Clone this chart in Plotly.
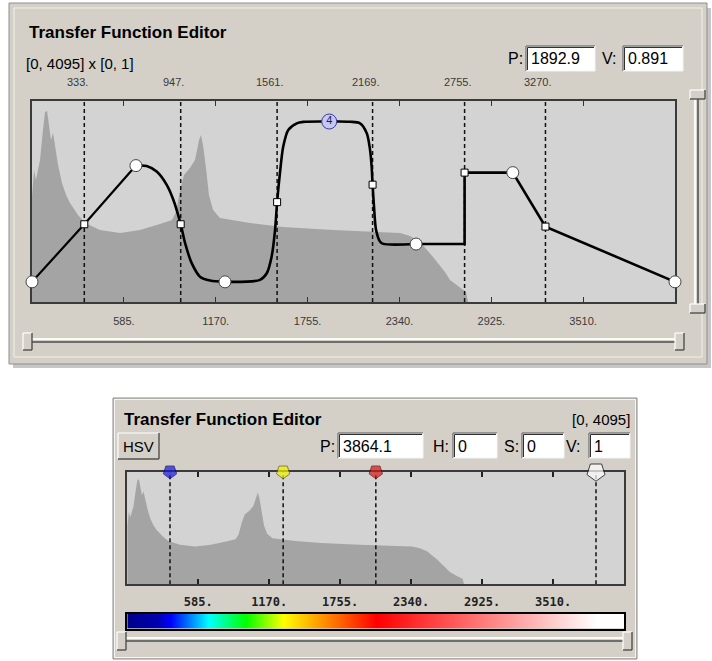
import plotly.graph_objects as go

W, H = 712, 661


def px(x):
    return x / W


def py(y):
    return 1 - y / H


# ---------------- data ----------------
# histogram (value position, relative height)
hist_pos = [0, 13, 25, 51, 70, 83, 96, 108, 121, 134, 146, 166, 191, 217, 242, 293, 338, 433, 561, 688,
            815, 892, 917, 943, 968, 1006, 1038, 1064, 1076, 1089, 1108, 1127, 1153, 1197, 1388, 1598, 1917,
            2344, 2407, 2471, 2554, 2630, 2662, 2726, 2764, 2777]
hist_h = [0.522, 0.657, 0.607, 0.706, 0.856, 0.945, 0.95, 0.881, 0.806, 0.841, 0.781, 0.682, 0.592, 0.532,
          0.493, 0.433, 0.393, 0.358, 0.343, 0.358, 0.388, 0.408, 0.448, 0.557, 0.632, 0.667, 0.706, 0.806,
          0.831, 0.781, 0.667, 0.532, 0.458, 0.418, 0.393, 0.373, 0.358, 0.343, 0.328, 0.299, 0.224, 0.149,
          0.109, 0.07, 0.05, 0.0]

# transfer function curve pieces (P, V)
lin1_p = [0, 333, 662]
lin1_v = [0, 0.32, 0.646]
smooth1_p = [662, 730, 794, 858, 900, 947, 975, 1017, 1070, 1134, 1229]
smooth1_v = [0.646, 0.644, 0.613, 0.539, 0.456, 0.32, 0.215, 0.104, 0.029, 0.007, 0.0]
smooth2_p = [1229, 1452, 1495, 1526, 1548, 1561, 1579, 1600, 1632, 1686, 1728, 1893]
smooth2_v = [0.0, 0.011, 0.048, 0.14, 0.289, 0.443, 0.604, 0.752, 0.844, 0.881, 0.889, 0.891]
smooth3_p = [1893, 2025, 2089, 2132, 2153, 2163, 2169, 2178, 2191, 2216, 2237, 2446]
smooth3_v = [0.891, 0.89, 0.881, 0.826, 0.733, 0.641, 0.54, 0.42, 0.289, 0.224, 0.211, 0.21]
lin2_p = [2446, 2755, 2755, 3062, 3270, 4095]
lin2_v = [0.21, 0.21, 0.607, 0.607, 0.307, 0.0]

# control points
node_p = [0, 662, 1229, 2446, 3062, 4095]
node_v = [0.0, 0.646, 0.0, 0.21, 0.607, 0.0]
sel_p = [1892.9]
sel_v = [0.891]
sel_label = ["4"]
mid_p = [333, 947, 1561, 2169, 2755, 3270]
mid_v = [0.32, 0.32, 0.443, 0.54, 0.607, 0.307]
mid_label = ["333.", "947.", "1561.", "2169.", "2755.", "3270."]

tick_vals = [585, 1170, 1755, 2340, 2925, 3510]
tick_text = ["585.", "1170.", "1755.", "2340.", "2925.", "3510."]

# color editor markers
cmark_p = [352, 1285, 2049, 3864.1]
cmark_fill = ["#1a1ad8", "#f4f400", "#d81818", "#ffffff"]
cmark_line = ["#000070", "#606000", "#600000", "#000000"]
cmark_size = [14, 14, 14, 19]

# color gradient stops
grad_p = [0, 250, 352, 671, 975, 1285, 1667, 2049, 3864.1, 4095]
grad_c = ["#00008c", "#0000b0", "#0000ff", "#00ffff", "#00ff00", "#ffff00", "#ff8000", "#ff0000",
          "#ffffff", "#ffffff"]

PMAX = 4095

# ---------------- figure ----------------
fig = go.Figure()

FONT = "Liberation Sans, Arial, sans-serif"
PANEL = "#d4d0c8"
PLOTBG = "#d3d3d3"
HISTC = "#a4a4a4"
FRAME = "#3a3a3a"

# ---- top: histogram + dashed lines (x,y)
fig.add_trace(go.Scatter(x=hist_pos, y=hist_h, mode="lines", fill="tozeroy", fillcolor=HISTC,
                         line=dict(width=0, color=HISTC), xaxis="x", yaxis="y", hoverinfo="skip"))
dx, dy = [], []
for p in mid_p:
    dx += [p, p, None]
    dy += [0, 1, None]
fig.add_trace(go.Scatter(x=dx, y=dy, mode="lines", line=dict(color="#111", width=1.5, dash="4px,3px"),
                         xaxis="x", yaxis="y", hoverinfo="skip"))

# ---- top: curve (x2,y2)
CURVE = dict(color="#000", width=2.6)
fig.add_trace(go.Scatter(x=lin1_p, y=lin1_v, mode="lines", line=dict(color="#000", width=2.2),
                         xaxis="x2", yaxis="y2"))
for sp, sv in [(smooth1_p, smooth1_v), (smooth2_p, smooth2_v), (smooth3_p, smooth3_v)]:
    fig.add_trace(go.Scatter(x=sp, y=sv, mode="lines", line=dict(CURVE, shape="spline", smoothing=0.8),
                             xaxis="x2", yaxis="y2"))
fig.add_trace(go.Scatter(x=lin2_p, y=lin2_v, mode="lines", line=CURVE, xaxis="x2", yaxis="y2"))
fig.add_trace(go.Scatter(x=mid_p, y=mid_v, mode="markers", cliponaxis=False,
                         marker=dict(symbol="square", size=7, color="white", line=dict(color="#000", width=1)),
                         xaxis="x2", yaxis="y2"))
fig.add_trace(go.Scatter(x=node_p, y=node_v, mode="markers", cliponaxis=False,
                         marker=dict(symbol="circle", size=12, color="white", line=dict(color="#444", width=1)),
                         xaxis="x2", yaxis="y2"))
fig.add_trace(go.Scatter(x=sel_p, y=sel_v, mode="markers+text", cliponaxis=False, text=sel_label,
                         textposition="middle center", textfont=dict(family=FONT, size=11, color="#202060"),
                         marker=dict(symbol="circle", size=15, color="#c4c8f4", line=dict(color="#3c3c9c", width=1)),
                         xaxis="x2", yaxis="y2"))

# ---- bottom: histogram + dashed lines (x3,y3)
fig.add_trace(go.Scatter(x=hist_pos, y=hist_h, mode="lines", fill="tozeroy", fillcolor=HISTC,
                         line=dict(width=0, color=HISTC), xaxis="x3", yaxis="y3", hoverinfo="skip"))
bx, by = [], []
for p in cmark_p:
    bx += [p, p, None]
    by += [0, 1.02, None]
fig.add_trace(go.Scatter(x=bx, y=by, mode="lines", line=dict(color="#111", width=1.5, dash="4px,3px"),
                         xaxis="x3", yaxis="y3", hoverinfo="skip"))

# ---- bottom: colour gradient (x4,y4)
cscale = [[p / PMAX, c] for p, c in zip(grad_p, grad_c)]
fig.add_trace(go.Heatmap(x=grad_p, y=[0, 1], z=[grad_p, grad_p], zmin=0, zmax=PMAX, colorscale=cscale,
                         zsmooth="best", showscale=False, xaxis="x4", yaxis="y4", hoverinfo="skip"))

# ---- bottom: colour markers (x5,y5)
fig.add_trace(go.Scatter(x=cmark_p, y=[1.02] * len(cmark_p), mode="markers", cliponaxis=False,
                         marker=dict(symbol="pentagon", angle=180, size=cmark_size, color=cmark_fill,
                                     line=dict(color=cmark_line, width=1)),
                         xaxis="x5", yaxis="y5"))

# ---------------- axes ----------------
top_xd = [px(32), px(675)]
top_yd = [py(302), py(101)]
bot_xd = [px(127.3), px(624)]
bot_yd = [py(584.3), py(471.7)]
bar_yd = [py(628.5), py(613.5)]

hidden = dict(visible=False, showgrid=False, zeroline=False, fixedrange=True)

fig.update_layout(
    width=W, height=H, margin=dict(l=0, r=0, t=0, b=0),
    paper_bgcolor="white", plot_bgcolor="rgba(0,0,0,0)", showlegend=False,
    xaxis=dict(domain=top_xd, range=[0, PMAX], tickvals=tick_vals, ticktext=tick_text, ticks="inside",
               ticklen=5, tickwidth=1, tickcolor="#333", showline=True, linecolor=FRAME, linewidth=2,
               mirror="ticks", showgrid=False, zeroline=False, anchor="y", fixedrange=True,
               tickfont=dict(family=FONT, size=11, color="#3a3a3a"), ticklabelstandoff=8),
    yaxis=dict(domain=top_yd, range=[0, 1], showline=True, linecolor=FRAME, linewidth=2, mirror=True,
               showgrid=False, zeroline=False, showticklabels=False, ticks="", anchor="x", fixedrange=True),
    xaxis2=dict(hidden, domain=top_xd, range=[0, PMAX], anchor="y2"),
    yaxis2=dict(hidden, domain=top_yd, range=[-0.112, 1.005], anchor="x2"),
    xaxis3=dict(domain=bot_xd, range=[0, PMAX], tickvals=tick_vals, ticktext=tick_text, ticks="inside",
                ticklen=5, tickwidth=1.5, tickcolor="#222", showline=True, linecolor=FRAME, linewidth=2,
                mirror="ticks", showgrid=False, zeroline=False, anchor="y3", fixedrange=True,
                tickfont=dict(family="DejaVu Sans Mono", size=12, color="#222", weight="bold"),
                ticklabelstandoff=5),
    yaxis3=dict(domain=bot_yd, range=[0, 1.02], showline=True, linecolor=FRAME, linewidth=2, mirror=True,
                showgrid=False, zeroline=False, showticklabels=False, ticks="", anchor="x3", fixedrange=True),
    xaxis4=dict(domain=bot_xd, range=[0, PMAX], showline=True, linecolor="#000", linewidth=1.5, mirror=True,
                showgrid=False, zeroline=False, showticklabels=False, ticks="", anchor="y4", fixedrange=True),
    yaxis4=dict(domain=bar_yd, range=[0, 1], showline=True, linecolor="#000", linewidth=1.5, mirror=True,
                showgrid=False, zeroline=False, showticklabels=False, ticks="", anchor="x4", fixedrange=True),
    xaxis5=dict(hidden, domain=bot_xd, range=[0, PMAX], anchor="y5"),
    yaxis5=dict(hidden, domain=bot_yd, range=[0, 1.02], anchor="x5"),
)

# ---------------- decorations ----------------
shapes = []


def rect(x0, y0, x1, y1, fill=None, line=None, lw=1, layer="below"):
    shapes.append(dict(type="rect", xref="paper", yref="paper", x0=px(x0), x1=px(x1), y0=py(y1), y1=py(y0),
                       fillcolor=fill if fill else "rgba(0,0,0,0)",
                       line=dict(color=line if line else "rgba(0,0,0,0)", width=lw if line else 0),
                       layer=layer))


def seg(x0, y0, x1, y1, color, lw=1, layer="below"):
    shapes.append(dict(type="line", xref="paper", yref="paper", x0=px(x0), x1=px(x1), y0=py(y0), y1=py(y1),
                       line=dict(color=color, width=lw), layer=layer))


def sunken(x0, y0, x1, y1):
    rect(x0, y0, x1, y1, fill="white")
    seg(x0, y0, x1, y0, "#808080", 1.5)
    seg(x0, y0, x0, y1, "#808080", 1.5)
    seg(x0 + 1.5, y0 + 1.5, x1 - 1, y0 + 1.5, "#303030", 1)
    seg(x0 + 1.5, y0 + 1.5, x0 + 1.5, y1 - 1, "#303030", 1)
    seg(x0, y1, x1, y1, "#f4f4f4", 1)
    seg(x1, y0, x1, y1, "#f4f4f4", 1)


def raised(x0, y0, x1, y1):
    rect(x0, y0, x1, y1, fill=PANEL)
    seg(x0, y0, x1, y0, "#ffffff", 1.2)
    seg(x0, y0, x0, y1, "#ffffff", 1.2)
    seg(x0, y1, x1, y1, "#505050", 1.4)
    seg(x1, y0, x1, y1, "#505050", 1.4)


# top panel (shadow + body)
rect(13, 8, 711, 368, fill="#c6c6c6")
rect(9, 3, 707, 364, fill=PANEL, line="#8e8e8e", lw=1)
rect(14, 8, 702, 357, line="#f2f0ec", lw=1)
# top plot background
shapes.append(dict(type="rect", xref="x domain", yref="y domain", x0=0, x1=1, y0=0, y1=1,
                   fillcolor=PLOTBG, line=dict(width=0), layer="below"))

# text boxes (top)
sunken(526, 46, 595, 71)
sunken(623, 46, 683, 71)

# horizontal slider (top)
seg(30, 339, 682, 339, "#fbfbf6", 2.2)
seg(30, 342, 682, 342, "#6e6e6e", 2)
raised(23, 333, 32, 350)
raised(675, 333, 684, 350)
# vertical slider
seg(695, 96, 695, 310, "#fbfbf6", 2.2)
seg(698, 96, 698, 310, "#6e6e6e", 2)
raised(690, 90, 705, 99)
raised(690, 304, 705, 313)

# bottom panel
rect(113, 398, 637, 659, fill=PANEL, line="#8a8a8a", lw=1)
rect(114.5, 399.5, 635.5, 657.5, line="#f6f4f0", lw=1)
shapes.append(dict(type="rect", xref="x3 domain", yref="y3 domain", x0=0, x1=1, y0=0, y1=1,
                   fillcolor=PLOTBG, line=dict(width=0), layer="below"))
raised(118, 433, 159, 459)
sunken(338, 433, 423, 458)
sunken(453, 433, 497, 458)
sunken(522, 433, 564, 458)
sunken(589, 433, 630, 458)
# bottom slider
seg(122, 638, 628, 638, "#fbfbf6", 2.2)
seg(122, 641, 628, 641, "#6e6e6e", 2)
raised(117, 632, 126, 650)
raised(623, 632, 632, 650)

fig.update_layout(shapes=shapes)

# ---------------- texts ----------------
ann = []


def text(x, y, s, size=15, anchor="left", color="#000", family=FONT):
    ann.append(dict(x=px(x), y=py(y), xref="paper", yref="paper", text=s, showarrow=False,
                    xanchor=anchor, yanchor="middle", font=dict(family=family, size=size, color=color)))


text(27, 32, "<b>Transfer Function Editor</b>", 17)
text(24, 63, "[0, 4095] x [0, 1]", 15)
text(506, 59, "P:", 16)
text(529, 59, "1892.9", 16)
text(600, 59, "V:", 16)
text(626, 59, "0.891", 16)

for p, lab in zip(mid_p, mid_label):
    ann.append(dict(x=p, y=py(82), xref="x", yref="paper", text=lab, showarrow=False,
                    xanchor="center", yanchor="middle", xshift=-7,
                    font=dict(family=FONT, size=11, color="#3a3a3a")))

text(122, 419, "<b>Transfer Function Editor</b>", 17)
text(632, 419, "[0, 4095]", 15, anchor="right")
text(138.5, 446, "HSV", 15, anchor="center")
text(318, 446, "P:", 16)
text(341, 446, "3864.1", 16)
text(431, 446, "H:", 16)
text(456, 446, "0", 16)
text(502, 446, "S:", 16)
text(525, 446, "0", 16)
text(564, 446, "V:", 16)
text(592, 446, "1", 16)

fig.update_layout(annotations=ann)

fig.write_html("out.html")
